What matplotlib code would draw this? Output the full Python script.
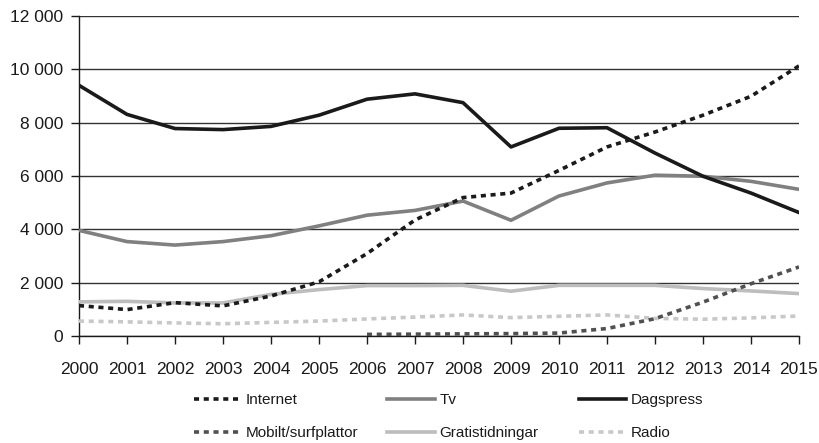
import numpy as np
import matplotlib
matplotlib.use("Agg")
import matplotlib.pyplot as plt
from matplotlib.ticker import FuncFormatter

plt.rcParams['font.family'] = ['Liberation Sans', 'DejaVu Sans']

# data
years = list(range(2000, 2016))
internet = [1140, 990, 1250, 1130, 1500, 2030, 3090, 4350, 5190, 5360, 6210, 7090, 7650, 8280, 8990, 10130]
tv = [3960, 3540, 3410, 3540, 3760, 4130, 4530, 4710, 5060, 4340, 5250, 5740, 6030, 5990, 5800, 5500]
dagspress = [9400, 8310, 7780, 7740, 7860, 8280, 8880, 9080, 8750, 7090, 7790, 7810, 6860, 5990, 5360, 4630]
mobilt_years = list(range(2006, 2016))
mobilt = [60, 70, 80, 90, 110, 280, 650, 1270, 1960, 2590]
gratis = [1280, 1300, 1240, 1240, 1560, 1740, 1890, 1890, 1900, 1680, 1900, 1900, 1900, 1780, 1690, 1590]
radio = [560, 530, 490, 460, 510, 560, 640, 710, 790, 690, 740, 790, 660, 630, 680, 750]

yticks = [0, 2000, 4000, 6000, 8000, 10000, 12000]

fig = plt.figure(figsize=(8.2, 4.43), dpi=100)
ax = fig.add_axes([79/820, 1-336/443, 720/820, 320/443])

dot = (0, (1.4, 1.3))
l_int, = ax.plot(years, internet, color='#1a1a1a', lw=2.6, ls=dot, dash_capstyle='butt', label='Internet', zorder=5)
l_tv, = ax.plot(years, tv, color='#808080', lw=2.6, label='Tv', zorder=4)
l_dag, = ax.plot(years, dagspress, color='#1a1a1a', lw=2.6, label='Dagspress', zorder=4)
l_mob, = ax.plot(mobilt_years, mobilt, color='#505050', lw=2.6, ls=dot, dash_capstyle='butt', label='Mobilt/surfplattor', zorder=5)
l_gra, = ax.plot(years, gratis, color='#bdbdbd', lw=2.6, label='Gratistidningar', zorder=3)
l_rad, = ax.plot(years, radio, color='#c8c8c8', lw=2.6, ls=dot, dash_capstyle='butt', label='Radio', zorder=3)

ax.set_xlim(2000, 2015)
ax.set_ylim(0, 12000)
ax.set_xticks(years)
ax.set_yticks(yticks)
ax.yaxis.set_major_formatter(FuncFormatter(lambda v, p: f"{int(v):,}".replace(",", " ")))
ax.grid(axis='y', color='#333333', lw=1.0)
ax.set_axisbelow(True)
for s in ['top', 'right']:
    ax.spines[s].set_visible(False)
for s in ['left', 'bottom']:
    ax.spines[s].set_color('#1a1a1a')
    ax.spines[s].set_linewidth(1.0)
ax.tick_params(axis='x', direction='out', length=5.5, width=1.0, pad=13, labelsize=12.5, colors='#1a1a1a')
ax.tick_params(axis='y', direction='out', length=6, width=1.0, pad=5.5, labelsize=12.5, colors='#1a1a1a')

# legend: three columns placed separately
cols = [([l_int, l_mob], 194), ([l_tv, l_gra], 387.5), ([l_dag, l_rad], 579)]
for hs, xpx in cols:
    leg = fig.legend(handles=hs, labels=[h.get_label() for h in hs], loc='center left',
                     bbox_to_anchor=(xpx/820, 1-416.5/443), frameon=False, fontsize=11,
                     handlelength=3.1, handletextpad=0.3, labelspacing=1.25,
                     borderpad=0, borderaxespad=0)
    for t in leg.get_texts():
        t.set_color('#1a1a1a')

fig.savefig('out.png', dpi=100)
